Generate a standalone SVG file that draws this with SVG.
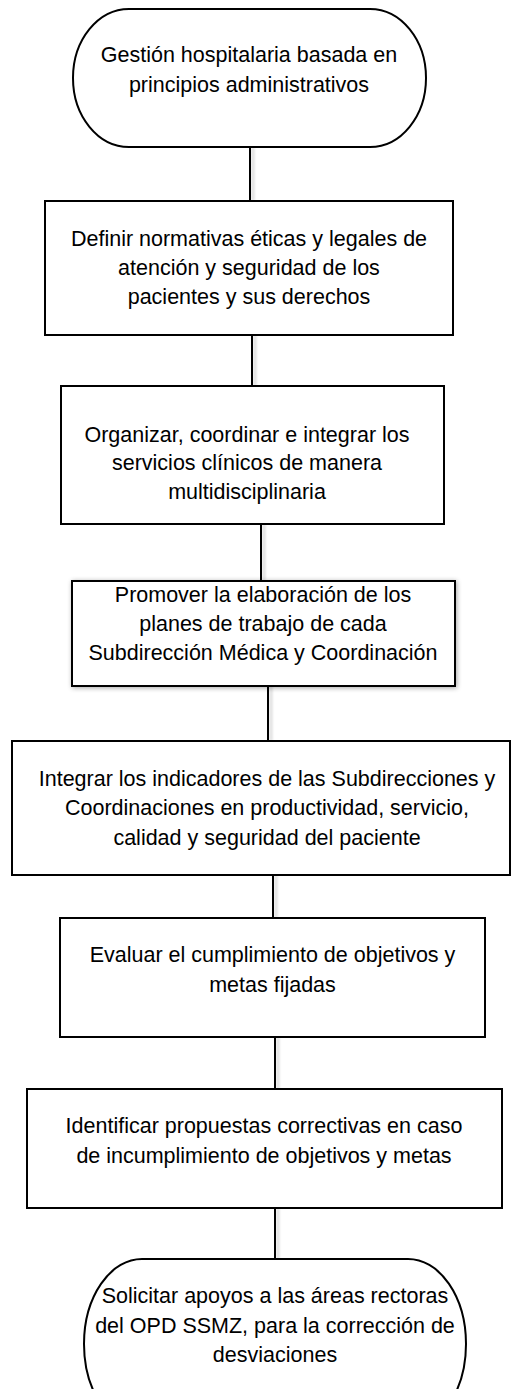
<svg xmlns="http://www.w3.org/2000/svg" width="511" height="1389" viewBox="0 0 511 1389">
<style>
.n{fill:#fff;stroke:#000;stroke-width:2}
.t{font-family:"Liberation Sans",Arial,sans-serif;font-size:21.5px;fill:#000;text-anchor:middle}
.c{stroke:#000;stroke-width:2;fill:none}
</style>
<defs>
<filter id="sh" x="-20%" y="-20%" width="140%" height="140%">
<feGaussianBlur in="SourceAlpha" stdDeviation="2.5"/>
<feOffset dx="1" dy="1" result="b"/>
<feComponentTransfer><feFuncA type="linear" slope="0.35"/></feComponentTransfer>
<feMerge><feMergeNode/><feMergeNode in="SourceGraphic"/></feMerge>
</filter>
<filter id="lsh" x="-400%" y="-10%" width="900%" height="120%">
<feGaussianBlur in="SourceAlpha" stdDeviation="1.5"/>
<feOffset dx="3" dy="0"/>
<feComponentTransfer><feFuncA type="linear" slope="0.2"/></feComponentTransfer>
<feMerge><feMergeNode/><feMergeNode in="SourceGraphic"/></feMerge>
</filter>
</defs>
<rect width="511" height="1389" fill="#fff"/>
<g id="connectors" filter="url(#lsh)">
<line class="c" x1="250" y1="147" x2="250" y2="201"/>
<line class="c" x1="252" y1="335" x2="252" y2="386"/>
<line class="c" x1="261" y1="524" x2="261" y2="581"/>
<line class="c" x1="268" y1="686" x2="268" y2="741"/>
<line class="c" x1="273" y1="875" x2="273" y2="918"/>
<line class="c" x1="275" y1="1037" x2="275" y2="1089"/>
<line class="c" x1="275" y1="1208" x2="275" y2="1259"/>
</g>
<g id="n1">
<rect class="n" x="73" y="9" width="353" height="138" rx="56" ry="69"/>
<text class="t" x="249" y="62">Gestión hospitalaria basada en</text>
<text class="t" x="249" y="92">principios administrativos</text>
</g>
<g id="n2">
<rect class="n" x="45" y="201" width="408" height="134"/>
<text class="t" x="249" y="246">Definir normativas éticas y legales de</text>
<text class="t" x="249" y="275">atención y seguridad de los</text>
<text class="t" x="249" y="304">pacientes y sus derechos</text>
</g>
<g id="n3">
<rect class="n" x="61" y="386" width="383" height="138"/>
<text class="t" x="247" y="442">Organizar, coordinar e integrar los</text>
<text class="t" x="247" y="470">servicios clínicos de manera</text>
<text class="t" x="247" y="499">multidisciplinaria</text>
</g>
<g id="n4">
<rect class="n" x="72" y="581" width="383" height="105" filter="url(#sh)"/>
<text class="t" x="263" y="602">Promover la elaboración de los</text>
<text class="t" x="263" y="631">planes de trabajo de cada</text>
<text class="t" x="263" y="660">Subdirección Médica y Coordinación</text>
</g>
<g id="n5">
<rect class="n" x="12" y="741" width="498" height="134"/>
<text class="t" x="267" y="786">Integrar los indicadores de las Subdirecciones y</text>
<text class="t" x="267" y="815">Coordinaciones en productividad, servicio,</text>
<text class="t" x="267" y="845">calidad y seguridad del paciente</text>
</g>
<g id="n6">
<rect class="n" x="60" y="918" width="425" height="119"/>
<text class="t" x="272.5" y="962">Evaluar el cumplimiento de objetivos y</text>
<text class="t" x="272.5" y="992">metas fijadas</text>
</g>
<g id="n7">
<rect class="n" x="27" y="1089" width="475" height="119"/>
<text class="t" x="264" y="1133">Identificar propuestas correctivas en caso</text>
<text class="t" x="264" y="1163">de incumplimiento de objetivos y metas</text>
</g>
<g id="n8">
<rect class="n" x="84" y="1259" width="382" height="170" rx="58" ry="85"/>
<text class="t" x="275" y="1303">Solicitar apoyos a las áreas rectoras</text>
<text class="t" x="275" y="1333">del OPD SSMZ, para la corrección de</text>
<text class="t" x="275" y="1362">desviaciones</text>
</g>
</svg>
